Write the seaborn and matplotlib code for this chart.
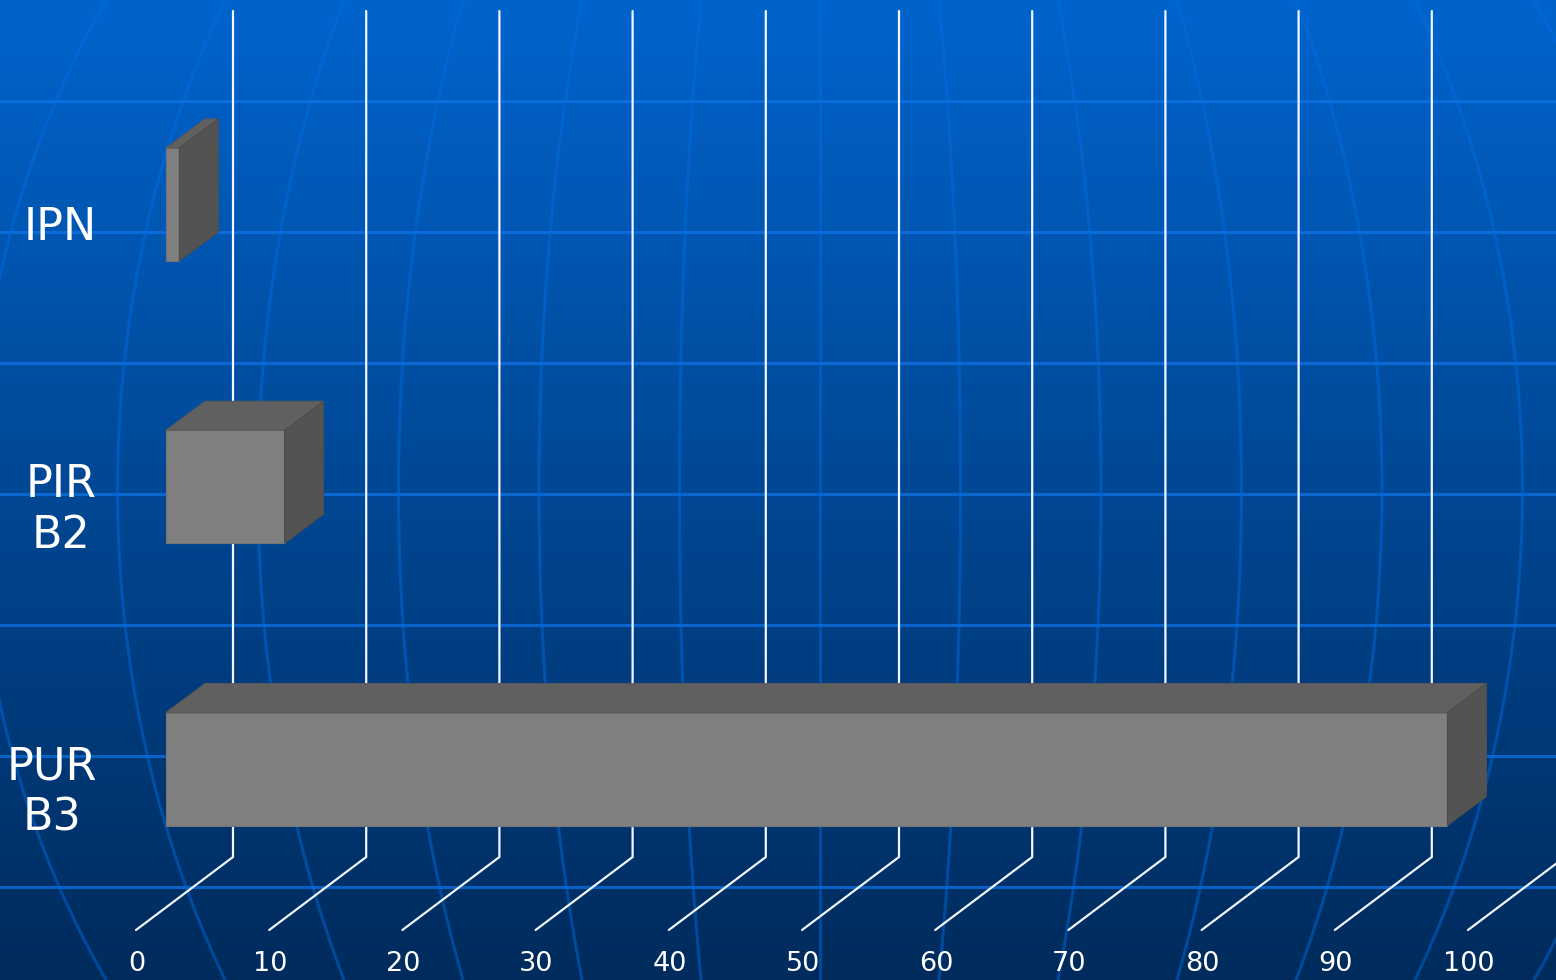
import numpy as np
import matplotlib
matplotlib.use("Agg")
import matplotlib.pyplot as plt
from matplotlib.patches import Polygon
import seaborn as sns
import pandas as pd

# ---------------- data ----------------
categories = ["IPN", "PIR\nB2", "PUR\nB3"]
values = [1.0, 8.9, 96.2]
tick_values = [0, 10, 20, 30, 40, 50, 60, 70, 80, 90, 100]
tick_labels = ["0", "10", "20", "30", "40", "50", "60", "70", "80", "90", "100"]

# ---------------- figure ----------------
W, H, DPI = 1556, 980, 100
sns.set_theme(style="white")
plt.rcParams["font.family"] = ["DejaVu Sans"]
fig = plt.figure(figsize=(W / DPI, H / DPI), dpi=DPI)

# background (decorative globe grid)
bg = fig.add_axes([0, 0, 1, 1], zorder=0)
grad = np.linspace(0, 1, 512)[:, None]
top = np.array([0, 100, 205]) / 255
bot = np.array([0, 43, 92]) / 255
img = top[None, None, :] * (1 - grad[..., None]) + bot[None, None, :] * grad[..., None]
img = np.repeat(img, 2, axis=1)
bg.imshow(img, extent=(0, W, H, 0), aspect="auto", interpolation="bilinear")
for yy in np.arange(101 - 131, H + 131, 131):
    bg.axhline(yy, color=(0.06, 0.46, 0.92), alpha=0.7, lw=2.2)
ys = np.linspace(0, H, 300)
g = np.sqrt(1 - ((ys - 490) / 921.5) ** 2)
for k in range(-6, 7):
    bg.plot(820 + 140.5 * k * g, ys, color=(0.0, 0.43, 0.9), alpha=0.45, lw=2.2)
bg.set_xlim(0, W)
bg.set_ylim(H, 0)
bg.axis("off")

# main axes
ax = fig.add_axes([0, 0, 1, 1], zorder=1)
ax.patch.set_alpha(0)

px = 13.32          # pixels per value unit
py = 282.3          # pixels per category step
x0_px, y0_px = 166, 204.5
xlim = (-x0_px / px, (W - x0_px) / px)
ylim = ((H - y0_px) / py, -y0_px / py)

# gridlines: back wall + floor diagonals
back_dx, front_dx = 67 / px, -30 / px
wall_top, wall_bot, floor_front = (11 - y0_px) / py, (857 - y0_px) / py, (930 - y0_px) / py
for v in tick_values:
    ax.plot([v + back_dx, v + back_dx, v + front_dx],
            [wall_top, wall_bot, floor_front],
            color="#F2F6FF", lw=1.6, zorder=2, solid_joinstyle="miter")

df = pd.DataFrame({"cat": categories, "val": values})
bar_w = 113 / py
sns.barplot(data=df, x="val", y="cat", orient="h", width=bar_w, color="#808080",
            saturation=1, edgecolor="#747474", linewidth=0.8, ax=ax, zorder=3)

# 3D faces
ddx, ddy = 39 / px, -29 / py
h = bar_w / 2
for i, v in enumerate(values):
    topf = [(0, i - h), (v, i - h), (v + ddx, i - h + ddy), (ddx, i - h + ddy)]
    side = [(v, i - h), (v + ddx, i - h + ddy), (v + ddx, i + h + ddy), (v, i + h)]
    ax.add_patch(Polygon(topf, closed=True, facecolor="#606060", edgecolor="#5A5A5A", lw=0.8, zorder=4))
    ax.add_patch(Polygon(side, closed=True, facecolor="#535353", edgecolor="#4E4E4E", lw=0.8, zorder=4))

# category labels
for i, c in enumerate(categories):
    ax.text((97 - x0_px) / px, i + 0.082, c, ha="right", va="center",
            multialignment="center", color="white", fontsize=32, linespacing=1.24, zorder=5)

# value tick labels on the floor
for v, t in zip(tick_values, tick_labels):
    ax.text(v - 2.2, (964 - y0_px) / py, t, ha="center", va="center",
            color="white", fontsize=19.5, zorder=5)

ax.set_xlim(*xlim)
ax.set_ylim(*ylim)
ax.axis("off")

fig.savefig("out.png", dpi=DPI)
